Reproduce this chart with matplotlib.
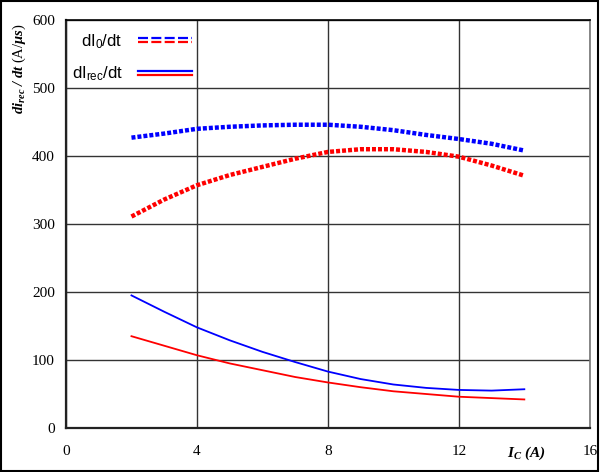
import matplotlib.pyplot as plt
from matplotlib.patches import Rectangle

plt.rcParams['mathtext.fontset'] = 'custom'
plt.rcParams['mathtext.rm'] = 'Liberation Serif'
plt.rcParams['mathtext.it'] = 'Liberation Serif:italic'
plt.rcParams['mathtext.bf'] = 'Liberation Serif:italic:bold'
plt.rcParams['mathtext.sf'] = 'Liberation Sans'

# collector current (A)
ic = [2, 3, 4, 5, 6, 7, 8, 9, 10, 11, 12, 13, 14]

# dI0/dt (A/us)
di0_blue = [427, 433, 440, 443, 445, 446, 446, 443, 438, 431, 425, 418, 408]
di0_red = [311, 336, 357, 372, 384, 396, 406, 410, 410, 406, 399, 386, 371]

# dIrec/dt (A/us)
direc_blue = [195, 171, 148, 129, 112, 97, 83, 72, 64, 59, 56, 55, 57]
direc_red = [135, 121, 107, 95, 85, 75, 67, 60, 54, 50, 46, 44, 42]

xticks = [0, 4, 8, 12, 16]
yticks = [0, 100, 200, 300, 400, 500, 600]

fig = plt.figure(figsize=(6.0, 4.72), dpi=100)
ax = fig.add_axes([0.11, 0.0932, 0.873, 0.8644])

dot = (0, (0.9, 0.45))
ax.plot(ic, di0_blue, color='#0000ff', lw=3.2, linestyle=dot, dash_capstyle='butt')
ax.plot(ic, di0_red, color='#ff0000', lw=3.2, linestyle=dot, dash_capstyle='butt')
ax.plot(ic, direc_blue, color='#0000ff', lw=1.3)
ax.plot(ic, direc_red, color='#ff0000', lw=1.3)

ax.set_xlim(0, 16)
ax.set_ylim(0, 600)
ax.set_xticks(xticks)
ax.set_yticks(yticks)
ax.tick_params(length=0, labelsize=11, pad=8)
for lab in ax.get_xticklabels() + ax.get_yticklabels():
    lab.set_family('Liberation Serif')
ax.tick_params(axis='x', pad=12)
ax.grid(True, color='#333333', lw=1.0)
ax.set_axisbelow(True)
for s in ['left', 'bottom']:
    ax.spines[s].set_linewidth(1.6)
    ax.spines[s].set_color('#222222')
ax.spines['top'].set_linewidth(1.2)
ax.spines['right'].set_color('#777777')
ax.spines['right'].set_linewidth(1.2)

# legend drawn in axes fraction
tr = ax.transAxes
ax.text(0.108, 0.947, r'$\mathsf{dI_0/dt}$', transform=tr, ha='right', va='center', fontsize=12)
ax.plot([0.138, 0.24], [0.956, 0.956], transform=tr, color='#0000ff', lw=1.6, ls=(0, (4.5, 1.5)))
ax.plot([0.138, 0.24], [0.947, 0.947], transform=tr, color='#ff0000', lw=1.6, ls=(0, (4.5, 1.5)))
ax.text(0.108, 0.868, r'$\mathsf{dI_{rec}/dt}$', transform=tr, ha='right', va='center', fontsize=12)
ax.plot([0.138, 0.24], [0.876, 0.876], transform=tr, color='#0000ff', lw=1.6)
ax.plot([0.138, 0.24], [0.865, 0.865], transform=tr, color='#ff0000', lw=1.6)

fig.text(0.878, 0.040, r'$\mathbf{I_C\ (A)}$', ha='center', va='center', fontsize=11)
fig.text(0.032, 0.855, r'$\mathbf{di_{rec}\ /\ dt}$ (A/$\mathbf{\mu s}$)', rotation=90,
         ha='center', va='center', fontsize=10.5, family='Liberation Serif')

fig.patches.append(Rectangle((0.002, 0.002), 0.995, 0.995, transform=fig.transFigure,
                             fill=False, edgecolor='black', lw=1.5))

fig.savefig('out.png', dpi=100)
